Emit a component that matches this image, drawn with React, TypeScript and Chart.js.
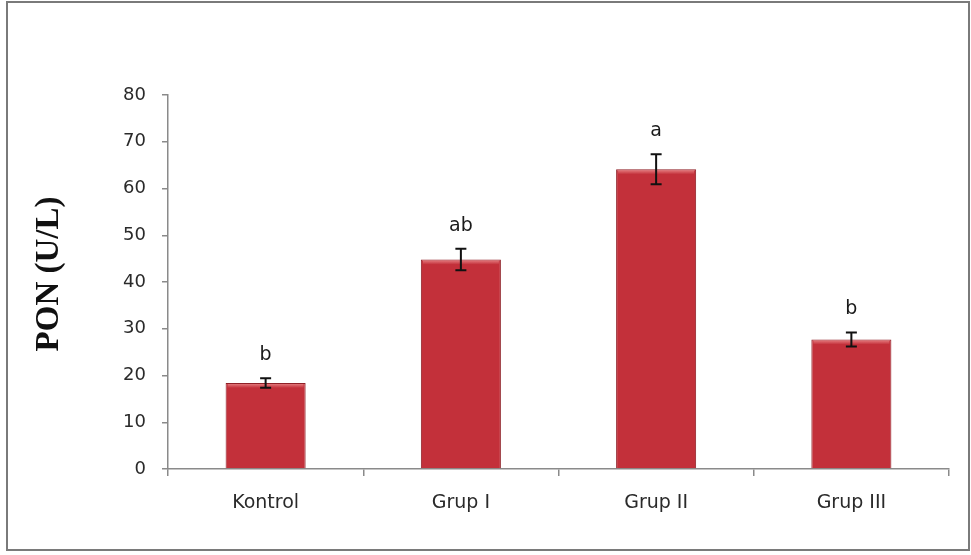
import React, { useEffect, useRef } from "react";
import { Chart, registerables } from "chart.js";

Chart.register(...registerables);

const groups = ["Kontrol", "Grup I", "Grup II", "Grup III"];
const ponMeans = [18.4, 44.8, 64.1, 27.7];
const ponErrors = [1.0, 2.3, 3.2, 1.5];
const sigLetters = ["b", "ab", "a", "b"];
const yTicks = [0, 10, 20, 30, 40, 50, 60, 70, 80];
const yTitle = "PON (U/L)";

const SANS = "'DejaVu Sans', sans-serif";

// Bevel highlight, error bars and significance letters drawn on top of the bars
const errorBarPlugin = {
  id: "errorBars",
  afterDatasetsDraw(chart: any) {
    const { ctx } = chart;
    const meta = chart.getDatasetMeta(0);
    const y = chart.scales.y;
    ctx.save();
    meta.data.forEach((bar: any, i: number) => {
      const x = bar.x;
      const w = bar.width;
      // light bevel along the top edge of the bar
      const hg = ctx.createLinearGradient(0, bar.y, 0, bar.y + 5);
      hg.addColorStop(0, "rgba(240,150,150,0.85)");
      hg.addColorStop(1, "rgba(240,150,150,0)");
      ctx.fillStyle = hg;
      ctx.fillRect(x - w / 2 + 2, bar.y + 1, w - 4, 5);

      const top = y.getPixelForValue(ponMeans[i] + ponErrors[i]);
      const bot = y.getPixelForValue(ponMeans[i] - ponErrors[i]);
      ctx.strokeStyle = "#111";
      ctx.lineWidth = 2;
      ctx.beginPath();
      ctx.moveTo(x, top);
      ctx.lineTo(x, bot);
      ctx.moveTo(x - 5.5, top);
      ctx.lineTo(x + 5.5, top);
      ctx.moveTo(x - 5.5, bot);
      ctx.lineTo(x + 5.5, bot);
      ctx.stroke();
      ctx.fillStyle = "#1a1a1a";
      ctx.font = `19px ${SANS}`;
      ctx.textAlign = "center";
      ctx.textBaseline = "middle";
      ctx.fillText(sigLetters[i], x, top - 23);
    });
    ctx.restore();
  },
};

// Rotated y-axis title and the frame around the whole figure
const framePlugin = {
  id: "frame",
  afterDraw(chart: any) {
    const { ctx } = chart;
    ctx.save();
    ctx.strokeStyle = "#7a7a7a";
    ctx.lineWidth = 2;
    ctx.strokeRect(7, 2, 962, 548);
    ctx.translate(49, 274);
    ctx.rotate(-Math.PI / 2);
    ctx.fillStyle = "#111";
    ctx.font = "bold 33px 'Liberation Serif', 'Times New Roman', serif";
    ctx.textAlign = "center";
    ctx.textBaseline = "middle";
    ctx.fillText(yTitle, 0, 0);
    ctx.restore();
  },
};

function barFill(context: any) {
  const el = context.element;
  const chart = context.chart;
  if (!el || !chart.chartArea) return "#c3303a";
  const props = el.getProps(["x", "width"], true);
  const left = props.x - props.width / 2;
  const right = props.x + props.width / 2;
  if (!isFinite(left) || !isFinite(right)) return "#c3303a";
  const g = chart.ctx.createLinearGradient(left, 0, right, 0);
  g.addColorStop(0, "#9e2229");
  g.addColorStop(0.07, "#be2f39");
  g.addColorStop(0.5, "#cd3a44");
  g.addColorStop(0.93, "#be2f39");
  g.addColorStop(1, "#9a2027");
  return g;
}

export default function App() {
  const canvasRef = useRef<HTMLCanvasElement | null>(null);

  useEffect(() => {
    if (!canvasRef.current) return;
    const chart = new Chart(canvasRef.current, {
      type: "bar",
      data: {
        labels: groups,
        datasets: [
          {
            data: ponMeans,
            backgroundColor: barFill as any,
            borderColor: "#8e1e25",
            borderWidth: 1,
            categoryPercentage: 1,
            barPercentage: 0.41,
          },
        ],
      },
      options: {
        responsive: false,
        animation: false,
        devicePixelRatio: 1,
        layout: { padding: { top: 95, right: 22, bottom: 0, left: 0 } },
        plugins: {
          legend: { display: false },
          tooltip: { enabled: false },
        },
        scales: {
          x: {
            border: { color: "#8a8a8a", width: 1.5 },
            grid: {
              drawOnChartArea: false,
              tickLength: 7,
              color: "#8a8a8a",
              lineWidth: 1.5,
            },
            ticks: { color: "#2a2a2a", font: { family: SANS, size: 19 }, padding: 16 },
            afterFit(scale: any) {
              scale.height = 86;
            },
          },
          y: {
            min: 0,
            max: 80,
            afterBuildTicks(scale: any) {
              scale.ticks = yTicks.map((v) => ({ value: v }));
            },
            border: { color: "#8a8a8a", width: 1.5 },
            grid: {
              drawOnChartArea: false,
              tickLength: 6,
              color: "#8a8a8a",
              lineWidth: 1.5,
            },
            ticks: { color: "#2a2a2a", font: { family: SANS, size: 18 }, padding: 16 },
            afterFit(scale: any) {
              scale.width = 168;
            },
          },
        },
      },
      plugins: [errorBarPlugin, framePlugin],
    });
    return () => chart.destroy();
  }, []);

  return (
    <div style={{ position: "fixed", left: 0, top: 0, width: 971, height: 555, background: "#fff" }}>
      <canvas ref={canvasRef} width={971} height={555} style={{ display: "block" }} />
    </div>
  );
}
